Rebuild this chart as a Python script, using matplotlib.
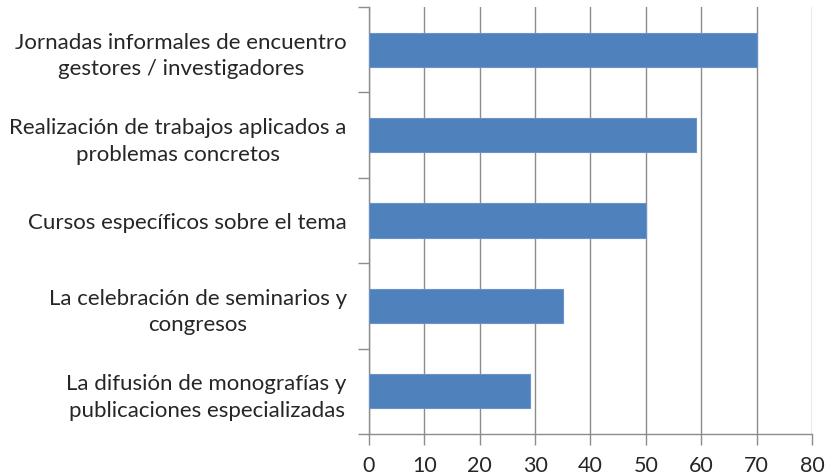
import matplotlib
matplotlib.use("Agg")
import matplotlib.pyplot as plt
import numpy as np

plt.rcParams['font.family'] = ['Lato', 'DejaVu Sans']

categories = [
    "Jornadas informales de encuentro\ngestores / investigadores",
    "Realización de trabajos aplicados a\nproblemas concretos",
    "Cursos específicos sobre el tema",
    "La celebración de seminarios y\ncongresos",
    "La difusión de monografías y\npublicaciones especializadas",
]
values = [70, 59, 50, 35, 29]
xticks = [0, 10, 20, 30, 40, 50, 60, 70, 80]

bar_color = '#4F81BD'
grid_color = '#8C8C8C'

fig = plt.figure(figsize=(8.25, 4.77), dpi=100)
ax = fig.add_axes([0.4473, 0.0881, 0.9842 - 0.4473, 0.9832 - 0.0881])

y = np.arange(len(categories))
ax.barh(y, values, height=0.4, color=bar_color, edgecolor='#6A93C8', linewidth=0.8, zorder=3)

ax.set_xlim(0, 80)
ax.set_ylim(len(categories) - 0.5, -0.5)
ax.set_xticks(xticks)
ax.set_xticklabels([str(t) for t in xticks], fontsize=15.5, color='#262626')
ax.xaxis.grid(True, color=grid_color, linewidth=1.0, zorder=0)

ax.set_yticks(y)
ax.set_yticklabels(categories, fontsize=16, color='#262626', multialignment='center',
                   linespacing=1.4)
ax.set_yticks(np.arange(len(categories) + 1) - 0.5, minor=True)
ax.tick_params(axis='y', which='major', length=0, pad=16)
ax.tick_params(axis='y', which='minor', length=8, color=grid_color, width=1.0)
ax.tick_params(axis='x', length=8, color=grid_color, width=1.0, pad=7)

for s in ['top', 'right']:
    ax.spines[s].set_visible(False)
for s in ['left', 'bottom']:
    ax.spines[s].set_color(grid_color)
    ax.spines[s].set_linewidth(1.0)

fig.savefig('out.png', dpi=100)
